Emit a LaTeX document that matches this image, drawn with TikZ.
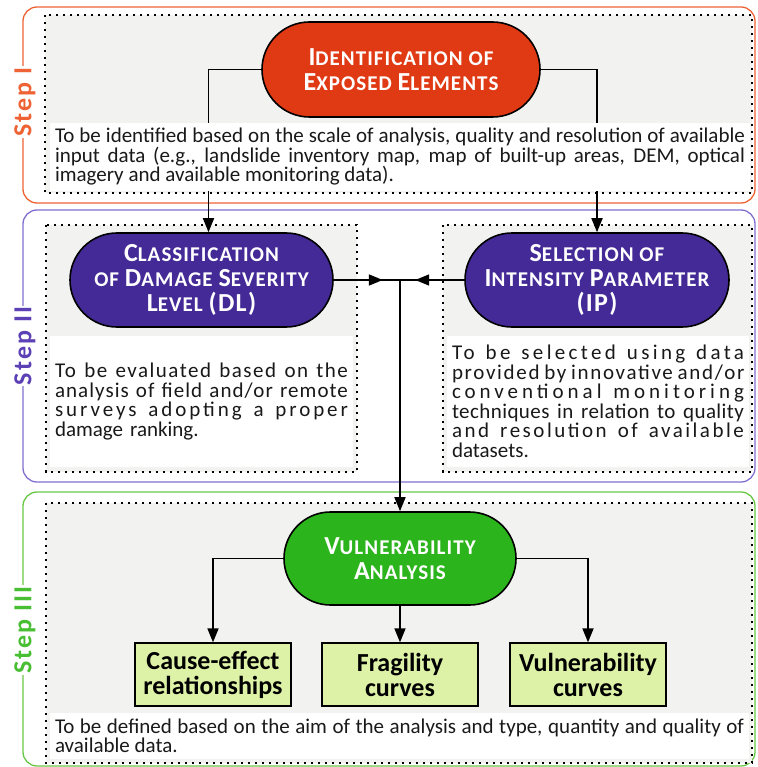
\documentclass[tikz,border=0pt]{standalone}
\usepackage{fontspec}
\setmainfont{Carlito}
\newfontfamily\ovalfont[LetterSpace=5]{Carlito}
\newfontfamily\labelfont[LetterSpace=8]{Carlito}
\usetikzlibrary{shapes.misc,arrows.meta}

\definecolor{stepone}{RGB}{238,98,52}
\definecolor{ovalone}{RGB}{224,58,20}
\definecolor{steptwo}{RGB}{130,110,208}
\definecolor{ovaltwo}{RGB}{68,42,150}
\definecolor{labeltwo}{RGB}{92,64,182}
\definecolor{stepthree}{RGB}{104,200,70}
\definecolor{ovalthree}{RGB}{44,180,28}
\definecolor{labelthree}{RGB}{72,190,50}
\definecolor{boxfill}{RGB}{221,242,166}
\definecolor{panel}{RGB}{242,242,241}

% fake small caps: first letter large, rest upper case and smaller
\newcommand{\scword}[2]{{\fontsize{26}{25}\selectfont #1}{\fontsize{21}{25}\selectfont\MakeUppercase{#2}}}
% one justified line, spread by letter spacing
\newcommand{\spreadline}[2]{\leavevmode\hbox to \hsize{\addfontfeature{LetterSpace=#1}\spaceskip=.226em plus 1fil\relax #2}}

\begin{document}
\begin{tikzpicture}[x = 1pt, y = -1pt,
    frame/.style = {line width = 1.3pt, rounded corners = 14pt},
    dotbox/.style = {fill = panel, draw = black, line width = 1.6pt, dash pattern = on 2.2pt off 4.8pt},
    steplab/.style = {rotate = 90, fill = white, inner sep = 1pt, font = \labelfont\fontsize{26}{25}\selectfont\bfseries},
    oval/.style = {rounded rectangle, draw = black, line width = 1.6pt, text = white, align = center,
        inner sep = 0pt, font = \ovalfont\bfseries\fontsize{21}{25}\selectfont},
    desc/.style = {fill = white, inner xsep = 5pt, inner ysep = 0pt, align = justify,
        text = black!90, font = \fontsize{21}{19.5}\selectfont},
    result/.style = {draw = black, line width = 1.3pt, fill = boxfill, minimum width = 156pt,
        minimum height = 63pt, align = center, inner sep = 0pt, font = \fontsize{26}{25}\selectfont\bfseries},
    conn/.style = {line width = 1.7pt},
    >={Triangle[length = 14pt, width = 11pt]}]
\useasboundingbox (0, 0) rectangle (757, 767);

% step frames
\draw[frame, stepone] (23, 7) rectangle (755, 203);
\draw[frame, steptwo] (23, 210) rectangle (755, 482);
\draw[frame, stepthree] (23, 492) rectangle (755, 766);
\node[steplab, text = stepone] (lone) at (25, 102) {Step I};
\node[steplab, text = labeltwo] (ltwo) at (25, 346) {Step II};
\node[steplab, text = labelthree] (lthree) at (25, 630) {Step III};

% dotted panels
\draw[dotbox] (45, 15) rectangle (752, 193);
\draw[dotbox] (46, 225) rectangle (357, 472);
\draw[dotbox] (443, 225) rectangle (752, 472);
\draw[dotbox] (46, 503) rectangle (752, 763);

% ovals
\node[oval, fill = ovalone, minimum width = 278pt, minimum height = 95pt] (IE) at (401, 69.5)
    {\scword{I}{dentification} \scword{}{of}\\\scword{E}{xposed} \scword{E}{lements}};
\node[oval, fill = ovaltwo, minimum width = 263pt, minimum height = 94pt] (DL) at (201.5, 280)
    {\scword{C}{lassification}\\\scword{}{of} \scword{D}{amage} \scword{S}{everity}\\\scword{L}{evel} \scword{(DL)}{}};
\node[oval, fill = ovaltwo, minimum width = 264pt, minimum height = 94pt] (IP) at (597, 280)
    {\scword{S}{election} \scword{}{of}\\\scword{I}{ntensity} \scword{P}{arameter}\\\scword{(IP)}{}};
\node[oval, fill = ovalthree, minimum width = 232pt, minimum height = 93pt] (VA) at (400, 558.5)
    {\scword{V}{ulnerability}\\\scword{A}{nalysis}};

% result boxes
\node[result] (CE) at (213, 674.5) {Cause-effect\\relationships};
\node[result] (FC) at (400, 674.5) {Fragility\\curves};
\node[result] (VC) at (588, 674.5) {Vulnerability\\curves};

% connectors
\coordinate (jn) at (400, 280);
\draw[conn, ->] (IE.west) -| ([xshift = 7pt]DL.north);
\draw[conn, ->] (IE.east) -| (IP.north);
\draw[conn, ->] (DL.east) -- ++(49, 0);
\draw[conn] (DL.east) -- (jn);
\draw[conn, ->] (IP.west) -- ++(-49, 0);
\draw[conn] (IP.west) -- (jn);
\draw[conn, ->] (jn) -- (VA.north);
\draw[conn, ->] (VA.west) -| (CE.north);
\draw[conn, ->] (VA.south) -- (FC.north);
\draw[conn, ->] (VA.east) -| (VC.north);

% descriptions
\node[desc, text width = 690pt, minimum height = 68pt] (done) at (400, 157)
    {To be identified based on the scale of analysis, quality and resolution of available\linebreak
    input data (e.g., landslide inventory map, map of built-up areas, DEM, optical\linebreak
    imagery and available monitoring data).};
\node[desc, align = left, text width = 293pt, minimum height = 131pt] (dtwoa) at (201.5, 401.5)
    {\spreadline{7}{To be evaluated based on the}\\
    \spreadline{5}{analysis of field and/or remote}\\
    \spreadline{14}{surveys adopting a proper}\\
    damage ranking.};
\node[desc, align = left, text width = 292pt, minimum height = 131pt] (dtwob) at (598, 401.5)
    {\spreadline{16}{To be selected using data}\\
    \spreadline{8}{provided by innovative and/or}\\
    \spreadline{19}{conventional monitoring}\\
    \spreadline{2}{techniques in relation to quality}\\
    \spreadline{12}{and resolution of available}\\
    datasets.};
\node[desc, text width = 689pt, minimum height = 46pt] (dthree) at (399.5, 736)
    {To be defined based on the aim of the analysis and type, quantity and quality of\linebreak
    available data.};
\end{tikzpicture}
\end{document}
